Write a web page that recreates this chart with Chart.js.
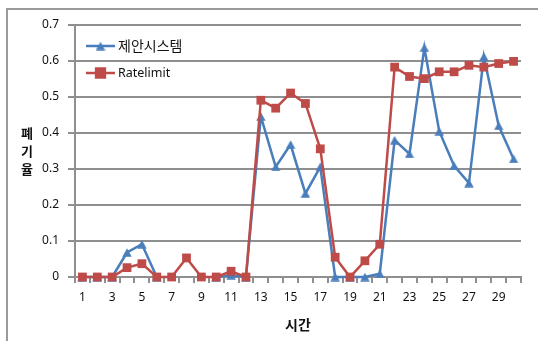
<!DOCTYPE html>
<html>
<head>
<meta charset="utf-8">
<script src="https://cdn.jsdelivr.net/npm/chart.js@4/dist/chart.umd.min.js"></script>
<style>
html,body{margin:0;padding:0;background:#fff;}
#wrap{position:relative;width:538px;height:341px;}
</style>
</head>
<body>
<div id="wrap"><canvas id="c" width="538" height="341"></canvas></div>
<script>
const categories = [1,2,3,4,5,6,7,8,9,10,11,12,13,14,15,16,17,18,19,20,21,22,23,24,25,26,27,28,29,30];
const proposedValues = [0,0,0,0.068,0.091,0,null,null,null,0,0.005,0,0.446,0.306,0.368,0.232,0.306,0,0,0,0.009,0.38,0.342,0.637,0.405,0.309,0.261,0.612,0.42,0.328];
const ratelimitValues = [0,0,0,0.026,0.037,0,0,0.053,0,0,0.016,0,0.491,0.469,0.511,0.482,0.356,0.055,0,0.045,0.091,0.583,0.557,0.551,0.57,0.57,0.588,0.583,0.593,0.599];
const seriesNames = ['제안시스템','Ratelimit'];
const yTitleChars = ['폐','기','율'];
const xTitle = '시간';

const BLUE = '#4a7ebb';
const RED = '#be4b48';
const GRID = '#8f8f8f';
const NUMFONT = '"Noto Sans", "Liberation Sans", sans-serif';
const KRFONT = '"Noto Sans CJK KR", sans-serif';

// triangle marker image (centered in its box, like the original markers)
const tri = document.createElement('canvas');
tri.width = 10; tri.height = 9;
(function(){
  const t = tri.getContext('2d');
  t.fillStyle = BLUE;
  t.beginPath(); t.moveTo(5, 0.3); t.lineTo(9.7, 8.7); t.lineTo(0.3, 8.7); t.closePath(); t.fill();
})();

const extras = {
  id: 'extras',
  beforeDraw(chart) {
    const ctx = chart.ctx;
    ctx.save();
    ctx.strokeStyle = '#9a9a9a';
    ctx.lineWidth = 2;
    ctx.beginPath();
    ctx.moveTo(7, 341); ctx.lineTo(7, 9); ctx.lineTo(538, 9);
    ctx.stroke();
    ctx.restore();
  },
  afterDraw(chart) {
    const ctx = chart.ctx;
    const ca = chart.chartArea;
    ctx.save();
    ctx.fillStyle = '#111';
    ctx.font = 'bold 13px ' + KRFONT;
    ctx.textAlign = 'center';
    ctx.textBaseline = 'middle';
    yTitleChars.forEach((ch, i) => ctx.fillText(ch, 27, 133 + i * 18));
    ctx.font = 'bold 14px ' + KRFONT;
    ctx.fillText(xTitle, (ca.left + ca.right) / 2, 325);
    const items = chart.data.datasets.slice().sort((a,b)=>a.legendOrder-b.legendOrder);
    items.forEach((ds, i) => {
      const y = 46 + i * 27;
      ctx.strokeStyle = ds.borderColor;
      ctx.lineWidth = 2.5;
      ctx.beginPath(); ctx.moveTo(86, y); ctx.lineTo(115, y); ctx.stroke();
      if (ds.pointStyle === tri) {
        ctx.drawImage(tri, 100.5 - tri.width / 2, y - tri.height / 2);
      } else {
        Chart.helpers.drawPoint(ctx, {pointStyle: ds.pointStyle, radius: ds.pointRadius, borderWidth: 1}, 100.5, y);
        ctx.fillStyle = ds.borderColor;
        ctx.fill();
      }
      ctx.fillStyle = '#111';
      ctx.textAlign = 'left';
      ctx.font = (i === 0 ? '14px ' : '12.5px ') + (i === 0 ? KRFONT : NUMFONT);
      ctx.fillText(ds.label, 118, y);
    });
    ctx.restore();
  }
};

new Chart(document.getElementById('c'), {
  type: 'line',
  data: {
    labels: categories,
    datasets: [
      {
        label: seriesNames[1], legendOrder: 1, data: ratelimitValues,
        borderColor: RED, backgroundColor: RED, borderWidth: 2.5,
        pointStyle: 'rect', pointRadius: 6.2, pointBorderWidth: 0,
        pointBackgroundColor: RED, order: 1, tension: 0, clip: false
      },
      {
        label: seriesNames[0], legendOrder: 0, data: proposedValues,
        borderColor: BLUE, backgroundColor: BLUE, borderWidth: 2.5,
        pointStyle: tri, pointRadius: 5, pointBorderWidth: 0,
        pointBackgroundColor: BLUE, order: 2, tension: 0, spanGaps: false, clip: false
      }
    ]
  },
  options: {
    responsive: false,
    animation: false,
    devicePixelRatio: 1,
    layout: { padding: { left: 0, top: 25, right: 17, bottom: 0 } },
    plugins: { legend: { display: false }, tooltip: { enabled: false } },
    scales: {
      x: {
        type: 'category',
        offset: true,
        afterFit(s) { s.height = 64; },
        grid: { offset: true, drawOnChartArea: false, drawTicks: true, tickLength: 6, color: GRID, lineWidth: 2 },
        border: { display: true, color: GRID, width: 2 },
        ticks: {
          autoSkip: false, maxRotation: 0, padding: 7, color: '#111',
          font: { family: NUMFONT, size: 12 },
          callback(v, i) { return (i % 2 === 0) ? String(categories[i]) : ''; }
        }
      },
      y: {
        min: 0, max: 0.7,
        afterFit(s) { s.width = 75; },
        grid: { color: GRID, lineWidth: 2, tickLength: 7, drawTicks: true },
        border: { display: true, color: GRID, width: 2 },
        ticks: {
          stepSize: 0.1, padding: 9, color: '#111',
          font: { family: NUMFONT, size: 12 },
          callback(v) { return Math.abs(v) < 1e-9 ? '0' : Number(v).toFixed(1); }
        }
      }
    }
  },
  plugins: [extras]
});
</script>
</body>
</html>
